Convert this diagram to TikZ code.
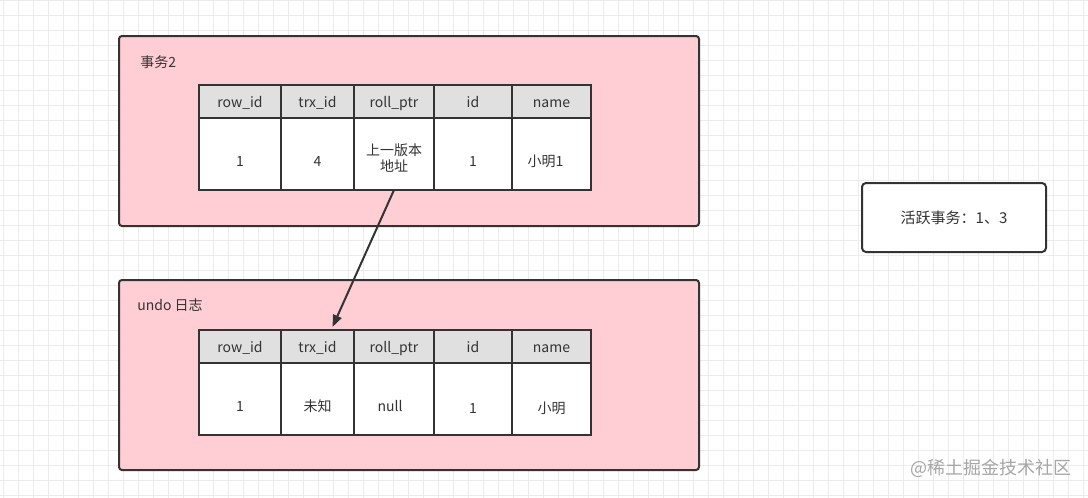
\documentclass[tikz,border=0pt]{standalone}
\usepackage{fontspec}
\setmainfont{Noto Sans CJK SC}
\usetikzlibrary{positioning,arrows.meta}

\definecolor{boxpink}{HTML}{FFCDD4}
\definecolor{headgray}{HTML}{E0E0E0}
\definecolor{linedark}{HTML}{333333}
\definecolor{gridgray}{HTML}{ECECEC}

\tikzset{
  layerbox/.style={draw=linedark, line width=1pt, fill=boxpink, rounded corners=1.5pt,
    inner sep=0pt, anchor=north west},
  cellhead/.style={draw=linedark, line width=1pt, fill=headgray, minimum height=16.5pt,
    inner sep=0pt, outer sep=0pt, text height=7pt, text depth=1pt,
    font=\fontsize{7}{8}\selectfont},
  cellbody/.style={draw=linedark, line width=1pt, fill=white, minimum height=36pt,
    inner sep=0pt, outer sep=0pt, align=center, font=\fontsize{7}{8}\selectfont},
  bodytext/.style={text height=12pt, text depth=0pt},
  boxlabel/.style={anchor=west, inner sep=0pt, font=\fontsize{7}{8}\selectfont},
}

\begin{document}
\begin{tikzpicture}[x=0.5pt, y=-0.5pt, node distance=0pt, text=linedark]
\useasboundingbox (0,0) rectangle (1088,498);

% Grid
\foreach \gx in {0,...,72}
  \draw[gridgray, line width=0.5pt] (3.3+15*\gx,0) -- (3.3+15*\gx,498);
\foreach \gy in {0,...,33}
  \draw[gridgray, line width=0.5pt] (0,15*\gy) -- (1088,15*\gy);

% Transaction 2
\node[layerbox, minimum width=290pt, minimum height=95pt] (trx) at (118,35) {};
\node[boxlabel] (trx-label) at (140,62) {事务2};

\node[cellhead, minimum width=41pt, anchor=north west] (t-row) at (199,85) {row\_id};
\node[cellhead, minimum width=36.5pt, right=of t-row] (t-trx) {trx\_id};
\node[cellhead, minimum width=40pt, right=of t-trx] (t-ptr) {roll\_ptr};
\node[cellhead, minimum width=39pt, right=of t-ptr] (t-id) {id};
\node[cellhead, minimum width=39.5pt, right=of t-id] (t-name) {name};

\node[cellbody, bodytext, minimum width=41pt, below=of t-row] (t-row-v) {1};
\node[cellbody, bodytext, minimum width=36.5pt, below=of t-trx] (t-trx-v) {4};
\node[cellbody, text height=17pt, text depth=0pt, minimum width=40pt, below=of t-ptr] (t-ptr-v) {上一版本\\地址};
\node[cellbody, bodytext, minimum width=39pt, below=of t-id] (t-id-v) {1};
\node[cellbody, bodytext, minimum width=39.5pt, below=of t-name] (t-name-v) {小明1\hspace{6pt}};

% Undo log
\node[layerbox, minimum width=290pt, minimum height=95pt] (undo) at (118,279) {};
\node[boxlabel] (undo-label) at (137,305) {undo 日志};

\node[cellhead, minimum width=41pt, anchor=north west] (u-row) at (199,330) {row\_id};
\node[cellhead, minimum width=36.5pt, right=of u-row] (u-trx) {trx\_id};
\node[cellhead, minimum width=40pt, right=of u-trx] (u-ptr) {roll\_ptr};
\node[cellhead, minimum width=39pt, right=of u-ptr] (u-id) {id};
\node[cellhead, minimum width=39.5pt, right=of u-id] (u-name) {name};

\node[cellbody, bodytext, minimum width=41pt, below=of u-row] (u-row-v) {1};
\node[cellbody, bodytext, minimum width=36.5pt, below=of u-trx] (u-trx-v) {未知};
\node[cellbody, bodytext, minimum width=40pt, below=of u-ptr] (u-ptr-v) {null\hspace{4pt}};
\node[cellbody, text height=14pt, text depth=0pt, minimum width=39pt, below=of u-id] (u-id-v) {1};
\node[cellbody, text height=14pt, text depth=0pt, minimum width=39.5pt, below=of u-name] (u-name-v) {小明};

% Pointer to older version
\draw[linedark, line width=1pt, -{Triangle[length=6pt,width=4.5pt]}]
  (t-ptr-v.south) -- ([xshift=7.5pt,yshift=1.5pt]u-trx.north);

% Active transactions
\node[draw=linedark, line width=1pt, fill=white, rounded corners=2pt,
  minimum width=92pt, minimum height=34.5pt, font=\fontsize{7.5}{9}\selectfont]
  (active) at (954,217.5) {活跃事务：1、3\hspace{5pt}};

% Watermark
\node[text=gray!70, font=\fontsize{9}{10}\selectfont] (mark) at (991,468) {@稀土掘金技术社区};
\end{tikzpicture}
\end{document}
